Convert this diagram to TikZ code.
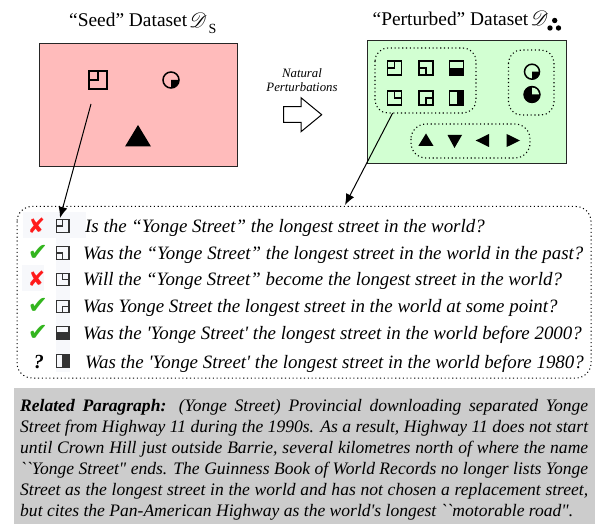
\documentclass[tikz,border=0pt]{standalone}
\usepackage{fontspec}
\usepackage{mathrsfs}
\usepackage{xcolor}
\newfontfamily\txt{Liberation Serif}
\newfontfamily\sym{DejaVu Sans}
\definecolor{pinkbg}{HTML}{FFBBBB}
\definecolor{greenbg}{HTML}{D2FFD2}
\definecolor{graybg}{HTML}{CCCCCC}
\definecolor{crossred}{HTML}{FF1A1A}
\definecolor{checkgreen}{HTML}{33B51E}
\definecolor{faint}{HTML}{F7F8FB}
\definecolor{icondark}{HTML}{333333}
\tikzset{
  panel/.style={draw=black!85,line width=1pt},
  dotbox/.style={draw=black,line width=1.1pt,dash pattern=on 1.1pt off 2.7pt,rounded corners=13pt},
  title/.style={font=\txt\fontsize{19.4}{22}\selectfont,inner sep=0pt},
  bigD/.style={font=\fontsize{21}{24}\selectfont,inner sep=0pt},
  question/.style={anchor=west,inner sep=0pt,yshift=-1.5pt,font=\txt\itshape\fontsize{18.9}{22}\selectfont},
  crossmark/.style={inner sep=0pt,text=crossred,font=\sym\fontsize{21}{22}\selectfont},
  checkmark/.style={inner sep=0pt,text=checkgreen,font=\sym\fontsize{24}{26}\selectfont},
  conn/.style={-{Latex[length=11pt,width=9pt]},line width=1pt},
  bigicon/.style={scale=7,line width=1.4pt},
  rowicon/.style={scale=6.3,line width=1.1pt,draw=icondark,fill=icondark},
  sqTL/.pic={\draw[pic actions,fill=none] (-1,-1) rectangle (1,1) (-1,0) -| (0,-1);},
  sqBL/.pic={\draw[pic actions,fill=none] (-1,-1) rectangle (1,1) (-1,0) -| (0,1);},
  sqTR/.pic={\draw[pic actions,fill=none] (-1,-1) rectangle (1,1) (1,0) -| (0,-1);},
  sqBR/.pic={\draw[pic actions,fill=none] (-1,-1) rectangle (1,1) (1,0) -| (0,1);},
  sqBH/.pic={\draw[pic actions,fill=none] (-1,-1) rectangle (1,1); \fill[pic actions] (-1,0) rectangle (1,1);},
  sqRH/.pic={\draw[pic actions,fill=none] (-1,-1) rectangle (1,1); \fill[pic actions] (0,-1) rectangle (1,1);},
}
\usetikzlibrary{arrows.meta}
\begin{document}
\begin{tikzpicture}[x=1pt,y=-1pt]
\useasboundingbox (0,0) rectangle (595,524);
% panels
\node[title,anchor=base west] (seedtitle) at (69,27) {“Seed” Dataset};
\node[bigD,anchor=base west] (seedD) at (189,27.5) {$\mathscr{D}$};
\node[title,anchor=base west,font=\txt\fontsize{14}{16}\selectfont] (seedS) at (208.5,33.5) {S};
\node[title,anchor=base west] (perttitle) at (372.5,26) {“Perturbed” Dataset};
\node[bigD,anchor=base west] (pertD) at (530.5,26) {$\mathscr{D}$};
\fill (550,28) circle[radius=2.7pt] (554.7,20.5) circle[radius=2.7pt] (558.5,28) circle[radius=2.7pt];
\draw[panel,fill=pinkbg] (39,44) rectangle (237,167);
\draw[panel,fill=greenbg] (367,41) rectangle (566,164);
% seed shapes
\pic[scale=9,line width=2pt] at (97.5,80.5) {sqTL};
\draw[line width=1.5pt] (171,80) circle[radius=8pt];
\fill (171,80) -- +(8,0) arc[start angle=0,end angle=-90,radius=8pt] -- cycle;
\fill (138,125) -- (151,146.5) -- (125,146.5) -- cycle;
% perturbed groups
\draw[dotbox] (375,48) rectangle (476,113);
\draw[dotbox] (508.5,50) rectangle (554,115);
\draw[dotbox,rounded corners=15pt] (411,124) rectangle (530,158);
\pic[bigicon] at (394.7,68) {sqTL};
\pic[bigicon] at (426,68) {sqBL};
\pic[bigicon] at (456.5,68) {sqBH};
\pic[bigicon] at (394.7,98) {sqTR};
\pic[bigicon] at (426,98) {sqBR};
\pic[bigicon] at (456.5,98) {sqRH};
\draw[line width=1.5pt] (532,71.7) circle[radius=7.5pt];
\fill (532,71.7) -- +(8,0) arc[start angle=0,end angle=-90,radius=8pt] -- cycle;
\fill (532,94.5) circle[radius=8.3pt];
\fill[greenbg] (532,94.5) -- +(7,0) arc[start angle=0,end angle=90,radius=7pt] -- cycle;
\draw[line width=1.3pt] (532,94.5) circle[radius=8pt];
\fill (426,133.5) -- (433.5,146) -- (418.3,146) -- cycle;
\fill (454.5,148) -- (462,135) -- (447.5,135) -- cycle;
\fill (475.7,140.5) -- (489,134) -- (489,147) -- cycle;
\fill (520,140.5) -- (506.7,134) -- (506.7,147) -- cycle;
% natural perturbations
\node[inner sep=0pt,align=center,font=\txt\itshape\fontsize{12.8}{14.5}\selectfont] (natural) at (302,80) {Natural\\Perturbations};
\draw[line width=1pt,fill=white,line join=miter] (283.7,106.7) -- (301,106.7) -- (301,97.7) -- (321.7,114.7) -- (301,131.7) -- (301,122.3) -- (283.7,122.3) -- cycle;
% question box
\fill[faint] (23,212) rectangle (86,238);
\fill[faint] (22,265) rectangle (44,291);
\fill[faint] (56,238) rectangle (70,372);
\draw[dotbox,line width=1pt,rounded corners=15pt] (17,206.5) rectangle (591,378);
\node[crossmark] (m1) at (36.5,226) {✘};
\node[checkmark] (m2) at (38,252.5) {✔};
\node[crossmark] (m3) at (36.5,279) {✘};
\node[checkmark] (m4) at (38,306) {✔};
\node[checkmark] (m5) at (38,333) {✔};
\node[inner sep=0pt,font=\txt\bfseries\itshape\fontsize{20}{22}\selectfont] (m6) at (39,362) {?};
\pic[rowicon] at (62.7,226) {sqTL};
\pic[rowicon] at (62.7,253) {sqBL};
\pic[rowicon] at (62.7,279.5) {sqTR};
\pic[rowicon] at (62.7,306.5) {sqBR};
\pic[rowicon] at (62.7,333) {sqBH};
\pic[rowicon] at (62.7,361) {sqRH};
\node[question] (q1) at (85,226) {Is the “Yonge Street” the longest street in the world?};
\node[question] (q2) at (83,253) {Was the “Yonge Street” the longest street in the world in the past?};
\node[question] (q3) at (83,279.5) {Will the “Yonge Street” become the longest street in the world?};
\node[question] (q4) at (83,306.5) {Was Yonge Street the longest street in the world at some point?};
\node[question] (q5) at (83,333) {Was the 'Yonge Street' the longest street in the world before 2000?};
\node[question] (q6) at (85,362) {Was the 'Yonge Street' the longest street in the world before 1980?};
% connectors
\coordinate (seedfrom) at (91,104);
\coordinate (seedto) at (60,218);
\coordinate (pertfrom) at (392.7,113);
\coordinate (pertto) at (345,205);
\draw[conn] (seedfrom) -- (seedto);
\draw[conn] (pertfrom) -- (pertto);
% paragraph
\fill[graybg] (14,388.3) rectangle (595,524);
\node[anchor=north west,inner sep=0pt,text width=568pt,align=justify,font=\txt\itshape\fontsize{17.55}{21}\selectfont] (para) at (20,398.8) {\textbf{Related Paragraph:} (Yonge Street) Provincial downloading separated Yonge\linebreak
Street from Highway 11 during the 1990s. As a result, Highway 11 does not start\linebreak
until Crown Hill just outside Barrie, several kilometres north of where the name\linebreak
``Yonge Street" ends. The Guinness Book of World Records no longer lists Yonge\linebreak
Street as the longest street in the world and has not chosen a replacement street,\linebreak
but cites the Pan-American Highway as the world's longest ``motorable road".};
\end{tikzpicture}
\end{document}
